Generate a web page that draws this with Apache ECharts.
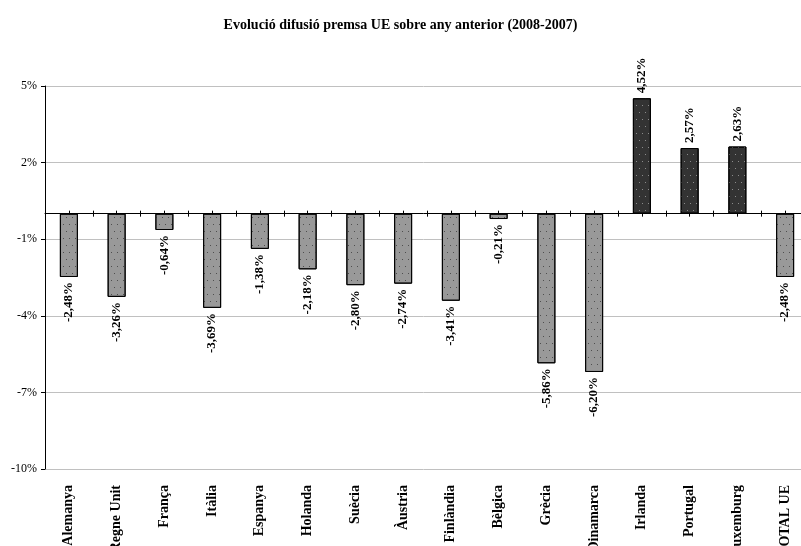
<!DOCTYPE html>
<html>
<head>
<meta charset="utf-8">
<script src="https://cdn.jsdelivr.net/npm/echarts@6/dist/echarts.min.js"></script>
<style>html,body{margin:0;padding:0;background:#fff}#c{width:801px;height:546px}</style>
</head>
<body>
<div id="c"></div>
<script>
var categories = ['Alemanya','Regne Unit','França','Itàlia','Espanya','Holanda','Suècia','Àustria','Finlàndia','Bèlgica','Grècia','Dinamarca','Irlanda','Portugal','Luxemburg','TOTAL UE'];
var values = [-2.48,-3.26,-0.64,-3.69,-1.38,-2.18,-2.80,-2.74,-3.41,-0.21,-5.86,-6.20,4.52,2.57,2.63,-2.48];
var yTicks = [-10,-7,-4,-1,2,5];
var titleText = 'Evolució difusió premsa UE sobre any anterior (2008-2007)';

var serif = '"Liberation Serif","DejaVu Serif",serif';
var halfCats = [];
for (var i = 0; i < categories.length * 2; i++) halfCats.push('h' + i);

function fmt(v) { return v.toFixed(2).replace('.', ',') + '%'; }

var seriesData = values.map(function (v) {
  var neg = v < 0;
  return {
    value: v,
    itemStyle: {
      color: neg ? '#999999' : '#333333',
      decal: {
        symbol: 'rect',
        symbolSize: 1,
        color: neg ? 'rgba(70,70,70,0.9)' : 'rgba(150,150,150,0.9)',
        dashArrayX: [[1, 5], [0, 3, 1, 2]],
        dashArrayY: [1, 6]
      }
    },
    label: {
      position: neg ? 'bottom' : 'top',
      align: neg ? 'right' : 'left'
    }
  };
});

var chart = echarts.init(document.getElementById('c'), null, {renderer: 'canvas'});
chart.setOption({
  animation: false,
  backgroundColor: '#ffffff',
  title: {
    text: titleText,
    left: 'center',
    top: 13,
    textStyle: {fontFamily: serif, fontSize: 14, fontWeight: 'bold', color: '#000'}
  },
  grid: {left: 45, right: -8, top: 86, bottom: 77, containLabel: false, outerBoundsMode: 'none'},
  xAxis: [
    {
      type: 'category',
      data: categories,
      position: 'bottom',
      axisLine: {show: false, onZero: false},
      axisTick: {show: false},
      axisLabel: {
        rotate: 90, interval: 0, margin: 16,
        fontFamily: serif, fontSize: 14, fontWeight: 'bold', color: '#000'
      }
    },
    {
      type: 'category',
      data: halfCats,
      position: 'bottom',
      axisLine: {show: true, onZero: true, onZeroAxisIndex: 0, lineStyle: {color: '#000', width: 1}},
      axisTick: {show: true, interval: 0, length: 3, inside: false, lineStyle: {color: '#000'}},
      axisLabel: {show: false},
      splitLine: {show: false}
    },
    {
      type: 'category',
      data: halfCats,
      position: 'top',
      axisLine: {show: false, onZero: true, onZeroAxisIndex: 1},
      axisTick: {show: true, interval: 0, length: 3, inside: false, lineStyle: {color: '#000'}},
      axisLabel: {show: false},
      splitLine: {show: false}
    }
  ],
  yAxis: [
    {
      type: 'value',
      min: yTicks[0],
      max: yTicks[yTicks.length - 1],
      interval: 3,
      axisLine: {show: true, lineStyle: {color: '#000'}},
      axisTick: {show: true, length: 4, lineStyle: {color: '#000'}},
      axisLabel: {
        margin: 8,
        fontFamily: serif, fontSize: 12, color: '#000',
        formatter: function (v) { return v + '%'; }
      },
      splitLine: {show: true, lineStyle: {color: '#c0c0c0', width: 1}}
    },
    {
      type: 'value',
      min: yTicks[0],
      max: yTicks[yTicks.length - 1],
      interval: 3,
      position: 'right',
      axisLine: {show: false},
      axisTick: {show: false},
      axisLabel: {show: false},
      splitLine: {show: false}
    }
  ],
  series: [{
    type: 'bar',
    xAxisIndex: 0,
    yAxisIndex: 0,
    data: seriesData,
    barWidth: 18,
    itemStyle: {borderColor: '#000', borderWidth: 1},
    label: {
      show: true,
      rotate: 90,
      distance: 5,
      verticalAlign: 'middle',
      fontFamily: serif, fontSize: 13, fontWeight: 'bold', color: '#000',
      formatter: function (p) { return fmt(p.value); }
    }
  }]
});
</script>
</body>
</html>
